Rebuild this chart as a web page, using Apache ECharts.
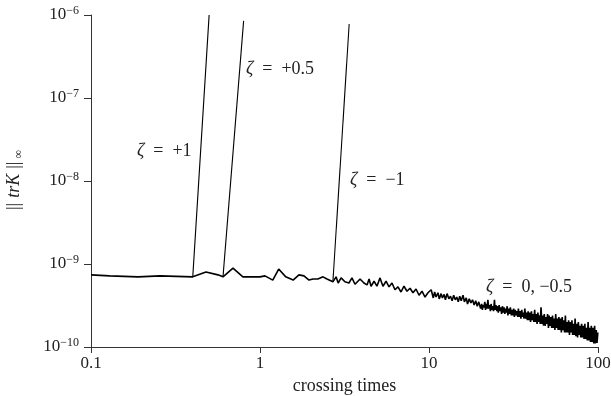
<!DOCTYPE html>
<html>
<head>
<meta charset="utf-8">
<script src="https://cdn.jsdelivr.net/npm/echarts@6/dist/echarts.min.js"></script>
<style>html,body{margin:0;padding:0;background:#fff}#c{width:611px;height:396px}</style>
</head>
<body>
<div id="c"></div>
<script>
// x tick values and y tick exponents
var xTicks = [0.1, 1, 10, 100];
var yTickExps = [-10, -9, -8, -7, -6];

// Base curve (zeta = 0, -0.5): crossing times and ||trK||_inf in units of 1e-10
var baseX = [0.1, 0.129, 0.19, 0.256, 0.40, 0.479, 0.564, 0.604, 0.692, 0.792, 1.0, 1.07, 1.19, 1.29, 1.42, 1.57, 1.70, 1.82, 1.95, 2.06, 2.20, 2.36, 2.49, 2.70,
  2.82, 2.90, 3.02, 3.18, 3.36, 3.50, 3.65, 3.91, 4.12, 4.30, 4.42, 4.54, 4.73, 4.92, 5.13, 5.34, 5.57, 5.80, 6.04, 6.29, 6.55, 6.83, 7.11, 7.41, 7.72, 8.04, 8.38, 8.73, 9.09, 9.47, 9.86, 10.3,
  10.6, 10.8, 11.0, 11.3, 11.5, 11.8, 12.0, 12.3, 12.5, 12.8, 13.1, 13.4, 13.7, 14.0, 14.3, 14.6, 14.9, 15.2, 15.5, 15.9, 16.2, 16.6, 16.9, 17.3, 17.7, 18.1, 18.5, 18.9, 19.3, 19.7,
  20.0, 20.2, 20.5, 20.7, 20.9, 21.1, 21.4, 21.6, 21.8, 22.1,
  22.3, 22.6, 22.8, 23.1, 23.3, 23.6, 23.8, 24.1, 24.4, 24.6,
  24.9, 25.2, 25.5, 25.7, 26.0, 26.3, 26.6, 26.9, 27.2, 27.5,
  27.8, 28.1, 28.4, 28.7, 29.0, 29.3, 29.7, 30.0, 30.3, 30.7,
  31.0, 31.3, 31.7, 32.0, 32.4, 32.7, 33.1, 33.5, 33.8, 34.2,
  34.6, 35.0, 35.4, 35.7, 36.1, 36.5, 36.9, 37.4, 37.8, 38.2,
  38.6, 39.0, 39.5, 39.9, 40.4, 40.8, 41.3, 41.7, 42.2, 42.6,
  43.1, 43.6, 44.1, 44.6, 45.0, 45.5, 46.0, 46.6, 47.1, 47.6,
  48.1, 48.7, 49.2, 49.8, 50.3, 50.9, 51.4, 52.0, 52.6, 53.2,
  53.8, 54.4, 55.0, 55.6, 56.2, 56.8, 57.4, 58.1, 58.7, 59.4,
  60.0, 60.7, 61.4, 62.0, 62.7, 63.4, 64.1, 64.8, 65.6, 66.3,
  67.0, 67.8, 68.5, 69.3, 70.1, 70.8, 71.6, 72.4, 73.2, 74.0,
  74.9, 75.7, 76.5, 77.4, 78.2, 79.1, 80.0, 80.9, 81.8, 82.7,
  83.6, 84.5, 85.5, 86.4, 87.4, 88.4, 89.3, 90.3, 91.3, 92.4,
  93.4, 94.4, 95.5, 96.5, 97.6, 98.7, 99.8];
var baseY = [7.4, 7.2, 7.0, 7.2, 7.0, 8.0, 7.4, 7.0, 8.9, 7.0, 7.0, 7.2, 6.4, 8.7, 7.0, 6.4, 7.4, 7.2, 6.4, 6.6, 6.6, 7.0, 6.6, 6.1,
  7.0, 5.9, 6.8, 6.1, 5.9, 6.8, 5.7, 6.6, 5.9, 5.6, 6.6, 5.4, 6.2, 5.4, 6.8, 5.4, 6.2, 5.3, 5.9, 4.9, 5.3, 4.6, 5.4, 4.7, 5.1, 4.5, 5.0, 4.2, 4.7, 4.0, 4.5, 4.9,
  3.9, 4.6, 4.0, 4.5, 3.8, 4.4, 3.9, 4.3, 3.7, 4.4, 3.8, 4.1, 3.6, 4.2, 3.7, 4.0, 3.5, 4.1, 3.6, 4.2, 3.5, 3.9, 3.3, 3.8, 3.4, 3.7, 3.2, 3.6, 3.1, 3.5,
  3.4, 2.9, 3.3, 2.8, 3.2, 3.0, 3.5, 2.8, 3.3, 2.9,
  3.7, 2.9, 3.2, 2.7, 3.3, 2.8, 3.1, 2.7, 3.7, 2.8,
  3.2, 2.7, 3.1, 2.6, 3.2, 2.7, 3.0, 2.5, 3.1, 2.6,
  3.0, 2.5, 2.9, 2.6, 3.1, 2.4, 2.9, 2.5, 3.0, 2.4,
  2.8, 2.4, 2.9, 2.3, 2.8, 2.4, 2.7, 2.3, 2.9, 2.3,
  2.7, 2.2, 2.8, 2.3, 2.6, 2.2, 2.9, 2.2, 2.6, 2.1,
  2.7, 2.1, 2.6, 2.0, 2.7, 2.1, 2.5, 2.0, 2.8, 2.0,
  2.5, 1.9, 2.6, 2.0, 2.4, 1.9, 3.0, 1.9, 2.4, 1.8,
  2.5, 1.8, 2.3, 1.9, 2.5, 1.7, 2.4, 1.8, 2.3, 1.7,
  2.4, 1.7, 2.2, 1.6, 2.5, 1.7, 2.2, 1.6, 2.3, 1.6,
  2.2, 1.5, 2.3, 1.6, 2.1, 1.5, 2.4, 1.5, 2.0, 1.5,
  2.1, 1.4, 2.0, 1.5, 2.1, 1.4, 1.9, 1.4, 2.2, 1.35,
  1.9, 1.3, 2.0, 1.4, 1.8, 1.3, 1.9, 1.3, 1.8, 1.25,
  1.9, 1.25, 1.7, 1.2, 2.0, 1.2, 1.7, 1.15, 1.8, 1.15,
  1.7, 1.1, 1.8, 1.1, 1.6, 1.12, 1.5];

// Blow-up branches: endpoints
var zetaP1X = [0.40, 0.50];      var zetaP1Y = [7.0e-10, 1.0e-6];
var zetaP05X = [0.604, 0.80];    var zetaP05Y = [7.0e-10, 8.5e-7];
var zetaM1X = [2.70, 3.37];      var zetaM1Y = [6.1e-10, 7.8e-7];

var SP = '\u2002';
var labels = ['{i|ζ}' + SP + '=' + SP + '+1', '{i|ζ}' + SP + '=' + SP + '+0.5', '{i|ζ}' + SP + '=' + SP + '−1', '{i|ζ}' + SP + '=' + SP + '0, −0.5'];

function pairs(xs, ys, scale) { return xs.map(function (x, i) { return [x, ys[i] * scale]; }); }

var FONT = 'Liberation Serif';
var chart = echarts.init(document.getElementById('c'), null, { renderer: 'canvas' });

function lineSeries(data, w) {
  return { type: 'line', data: data, symbol: 'none', smooth: false, animation: false,
    lineStyle: { color: '#000', width: w }, clip: true };
}

function annot(text, x, y) {
  return { type: 'text', x: x, y: y, silent: true,
    style: { text: text, fill: '#222', font: '18px "' + FONT + '"', verticalAlign: 'middle',
      rich: { i: { fontStyle: 'italic', fontFamily: FONT, fontSize: 18, fill: '#222' } } } };
}

chart.setOption({
  animation: false,
  backgroundColor: '#fff',
  grid: { left: 91, right: 13, top: 15, bottom: 49, containLabel: false, outerBoundsMode: 'none' },
  xAxis: {
    type: 'log', logBase: 10, min: xTicks[0], max: xTicks[xTicks.length - 1],
    name: 'crossing times', nameLocation: 'middle', nameGap: 26,
    nameTextStyle: { fontFamily: FONT, fontSize: 18, color: '#222' },
    axisLine: { show: true, lineStyle: { color: '#333', width: 1 } },
    axisTick: { show: true, inside: false, length: 6, lineStyle: { color: '#333' } },
    minorTick: { show: false }, splitLine: { show: false },
    axisLabel: { margin: 8, fontFamily: FONT, fontSize: 17, color: '#222',
      formatter: function (v) {
        var best = xTicks[0];
        xTicks.forEach(function (t) { if (Math.abs(Math.log10(t) - Math.log10(v)) < Math.abs(Math.log10(best) - Math.log10(v))) best = t; });
        return String(best);
      } }
  },
  yAxis: {
    type: 'log', logBase: 10, min: Math.pow(10, yTickExps[0]), max: Math.pow(10, yTickExps[yTickExps.length - 1]),
    name: '{n|||}{i|trK}{n|||}{s|∞}', nameLocation: 'middle', nameGap: 66, nameRotate: 90,
    nameTextStyle: { fontFamily: FONT, fontSize: 18, color: '#222',
      rich: { n: { fontFamily: FONT, fontSize: 18, padding: [0, 2, 0, 2] }, i: { fontFamily: FONT, fontSize: 18, fontStyle: 'italic', padding: [0, 3, 0, 3] },
        s: { fontFamily: FONT, fontSize: 12, padding: [9, 0, 0, 1] } } },
    axisLine: { show: true, lineStyle: { color: '#333', width: 1 } },
    axisTick: { show: true, inside: false, length: 7, lineStyle: { color: '#333' } },
    minorTick: { show: false }, splitLine: { show: false },
    axisLabel: { margin: 12, color: '#222',
      formatter: function (v) {
        var e = Math.round(Math.log10(v));
        return '{b|10}{s|' + (e < 0 ? '−' + (-e) : e) + '}';
      },
      rich: { b: { fontFamily: FONT, fontSize: 17, color: '#222' },
        s: { fontFamily: FONT, fontSize: 12, color: '#222', padding: [0, 0, 9, 0] } } }
  },
  series: [
    lineSeries(pairs(baseX, baseY, 1e-10), 1.6),
    lineSeries(pairs(zetaP1X, zetaP1Y, 1), 1.1),
    lineSeries(pairs(zetaP05X, zetaP05Y, 1), 1.1),
    lineSeries(pairs(zetaM1X, zetaM1Y, 1), 1.1)
  ],
  graphic: [
    annot(labels[0], 137, 151),
    annot(labels[1], 246, 69),
    annot(labels[2], 350, 180),
    annot(labels[3], 486, 287)
  ]
});
</script>
</body>
</html>
